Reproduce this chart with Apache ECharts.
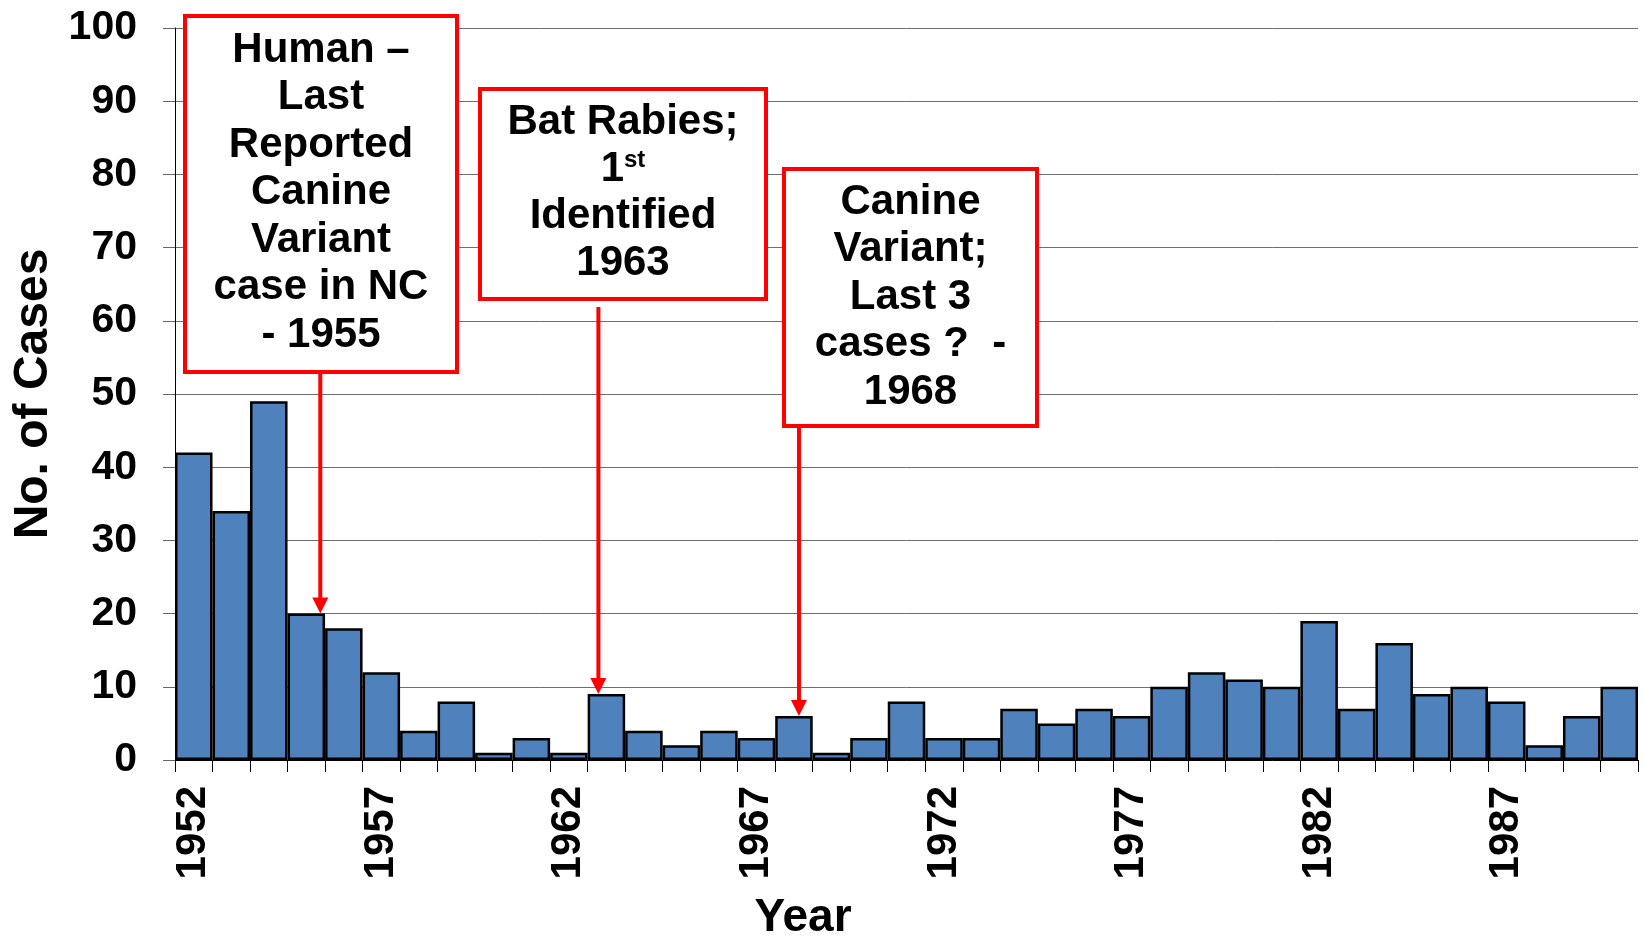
<!DOCTYPE html>
<html>
<head>
<meta charset="utf-8">
<script src="https://cdn.jsdelivr.net/npm/echarts@6/dist/echarts.min.js"></script>
<style>
html,body{margin:0;padding:0;background:#fff;}
#chart{width:1644px;height:937px;}
</style>
</head>
<body>
<div id="chart"></div>
<script>
// ---- data ----
const years = ['1952','1953','1954','1955','1956','1957','1958','1959','1960','1961',
               '1962','1963','1964','1965','1966','1967','1968','1969','1970','1971',
               '1972','1973','1974','1975','1976','1977','1978','1979','1980','1981',
               '1982','1983','1984','1985','1986','1987','1988','1989','1990'];
const cases = [42,34,49,20,18,12,4,8,1,3,
               1,9,4,2,4,3,6,1,3,8,
               3,3,7,5,7,6,10,12,11,10,
               19,7,16,9,10,8,2,6,10];
const yMin = 0, yMax = 100, yStep = 10;
const yAxisTitle = 'No. of Cases';
const xAxisTitle = 'Year';

// annotations: target year and text lines
const annotationYears = ['1955','1963','1968'];
const annotationTexts = [
  ['Human \u2013','Last','Reported','Canine','Variant','case in NC','- 1955'],
  ['Bat Rabies;','{n|1}{sup|st}','Identified','1963'],
  ['Canine','Variant;','Last 3','cases ?  -','1968']
];

// ---- layout (pixels) ----
const boxLayout = [
  {left:185, top:16,  right:457,  bottom:372, lineY:50,  lineStep:47.5, arrowStartY:372, arrowDx:14},
  {left:480, top:89,  right:766,  bottom:299, lineY:122, lineStep:47.2, arrowStartY:307, arrowDx:-8},
  {left:784, top:169, right:1037, bottom:426, lineY:202, lineStep:47.5, arrowStartY:424, arrowDx:5}
];
const FONT = "'Liberation Sans', Arial, sans-serif";
const RED = '#FF0000';
const BOX_FONT = 42;

const chart = echarts.init(document.getElementById('chart'), null, {renderer:'canvas'});

const option = {
  animation: false,
  backgroundColor: '#ffffff',
  grid: {left:175, right:6, top:28, bottom:177, containLabel:false, outerBoundsMode:'none'},
  xAxis: {
    type: 'category',
    data: years,
    boundaryGap: true,
    name: xAxisTitle,
    nameLocation: 'middle',
    nameGap: 135,
    nameTextStyle: {fontFamily: FONT, fontWeight:'bold', fontSize:46, color:'#000', padding:[0,207,0,0]},
    axisLine: {show:true, lineStyle:{color:'#000', width:1}},
    axisTick: {show:true, interval:0, length:12, alignWithLabel:false, lineStyle:{color:'#000', width:1}},
    axisLabel: {interval:4, rotate:90, margin:26, padding:[6,0,0,0], fontFamily: FONT, fontWeight:'bold', fontSize:42, color:'#000'},
    splitLine: {show:false}
  },
  yAxis: {
    type: 'value',
    min: yMin, max: yMax, interval: yStep,
    name: yAxisTitle,
    nameLocation: 'middle',
    nameGap: 114,
    nameTextStyle: {fontFamily: FONT, fontWeight:'bold', fontSize:48, color:'#000'},
    axisLine: {show:true, lineStyle:{color:'#000', width:1}},
    axisTick: {show:true, length:12, lineStyle:{color:'#666', width:1}},
    axisLabel: {margin:38, fontFamily: FONT, fontWeight:'bold', fontSize:41, color:'#000'},
    splitLine: {show:true, lineStyle:{color:'#6e6e6e', width:1}}
  },
  series: [{
    type: 'bar',
    data: cases,
    barCategoryGap: '0%',
    itemStyle: {color:'#4F81BD', borderColor:'#000', borderWidth:2.5},
    z: 2
  }]
};
chart.setOption(option);

// build annotations anchored on the bars
const graphics = [];
annotationYears.forEach((yr, i) => {
  const L = boxLayout[i];
  const idx = years.indexOf(yr);
  const p = chart.convertToPixel({xAxisIndex:0, yAxisIndex:0}, [yr, cases[idx]]);
  const ax = p[0] + L.arrowDx;
  const tipY = p[1];
  graphics.push({
    type:'rect', z:100,
    shape:{x:L.left, y:L.top, width:L.right-L.left, height:L.bottom-L.top},
    style:{fill:'#ffffff', stroke:RED, lineWidth:4}
  });
  const cx = (L.left + L.right) / 2;
  annotationTexts[i].forEach((t, j) => {
    graphics.push({
      type:'text', z:101,
      x: cx, y: L.lineY + j * L.lineStep,
      style:{
        text:t, fill:'#000', align:'center', verticalAlign:'middle',
        font:"bold " + BOX_FONT + "px " + FONT,
        rich:{
          n:{fontFamily:FONT, fontWeight:'bold', fontSize:BOX_FONT, fill:'#000', verticalAlign:'bottom'},
          sup:{fontFamily:FONT, fontWeight:'bold', fontSize:24, fill:'#000', verticalAlign:'top'}
        }
      }
    });
  });
  graphics.push({
    type:'line', z:100,
    shape:{x1:ax, y1:L.arrowStartY, x2:ax, y2:tipY-12},
    style:{stroke:RED, lineWidth:4}
  });
  graphics.push({
    type:'polygon', z:100,
    shape:{points:[[ax-8, tipY-16],[ax+8, tipY-16],[ax, tipY]]},
    style:{fill:RED}
  });
});
chart.setOption({graphic: graphics});
</script>
</body>
</html>
